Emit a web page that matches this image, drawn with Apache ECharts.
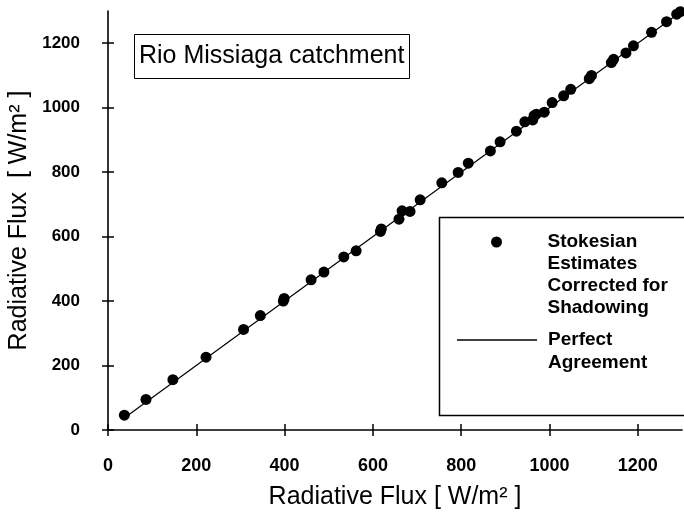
<!DOCTYPE html>
<html><head><meta charset="utf-8">
<script src="https://cdn.jsdelivr.net/npm/echarts@6/dist/echarts.min.js"></script>
<style>html,body{margin:0;padding:0;background:#fff}#c{width:684px;height:513px}</style>
</head><body><div id="c"></div>
<script>
// ---- data ----
const seriesNames = ['Stokesian Estimates Corrected for Shadowing', 'Perfect Agreement'];
const legendLines = ['\n\n\nStokesian\nEstimates\nCorrected for\nShadowing', '\nPerfect\nAgreement'];
const titleText = 'Rio Missiaga catchment';
const xTitle = 'Radiative Flux [ W/m\u00B2 ]';
const yTitle = 'Radiative Flux  [ W/m\u00B2 ]';
const xTicks = [0, 200, 400, 600, 800, 1000, 1200];
const yTicks = [0, 200, 400, 600, 800, 1000, 1200];
const estX = [37, 86, 147, 222, 307, 345, 397, 399, 460, 489, 534, 562, 617, 619, 659, 666, 684, 707, 756, 793, 816, 866, 888, 925, 944, 962, 965, 970, 988, 1006, 1032, 1048, 1090, 1095, 1140, 1145, 1173, 1190, 1231, 1265, 1288, 1296];
const estY = [46, 95, 156, 226, 312, 355, 400, 408, 466, 490, 537, 556, 616, 624, 654, 680, 678, 714, 767, 799, 828, 866, 894, 927, 956, 962, 975, 980, 986, 1016, 1037, 1057, 1090, 1100, 1140, 1150, 1170, 1192, 1234, 1267, 1290, 1298];
const lineX = [40, 1300];
const lineY = [40, 1300];

const FONT = "'Liberation Sans', Arial, sans-serif";

const chart = echarts.init(document.getElementById('c'), null, {renderer: 'canvas'});
const est = estX.map((x, i) => [x, estY[i]]);
const perfect = lineX.map((x, i) => [x, lineY[i]]);

const axisCommon = {type: 'value', min: 0, max: 1300, splitLine: {show: false}};
const plain = v => String(v);
chart.setOption({
  animation: false,
  backgroundColor: '#fff',
  title: {
    text: titleText, left: 134, top: 34,
    borderColor: '#000', borderWidth: 1, padding: [10, 5, 10, 5],
    textStyle: {fontFamily: FONT, fontSize: 25, fontWeight: 'normal', color: '#000'}
  },
  grid: {left: 108, top: 11, right: 2, bottom: 83, containLabel: false, outerBoundsMode: 'none'},
  xAxis: [
    Object.assign({}, axisCommon, {
      position: 'bottom',
      axisLine: {show: true, lineStyle: {color: '#000', width: 1.6}},
      axisTick: {show: true, inside: false, length: 6, customValues: xTicks, lineStyle: {color: '#000', width: 1.5}},
      axisLabel: {customValues: xTicks, formatter: plain, margin: 27, color: '#000', fontFamily: FONT, fontWeight: 'bold', fontSize: 18},
      name: xTitle, nameLocation: 'middle', nameGap: 55,
      nameTextStyle: {fontFamily: FONT, fontSize: 25, color: '#000'}
    }),
    Object.assign({}, axisCommon, {
      position: 'bottom',
      axisLine: {show: false},
      axisTick: {show: true, inside: true, length: 6, customValues: xTicks, lineStyle: {color: '#000', width: 1.5}},
      axisLabel: {show: false}
    })
  ],
  yAxis: [
    Object.assign({}, axisCommon, {
      position: 'left',
      axisLine: {show: true, lineStyle: {color: '#000', width: 1.6}},
      axisTick: {show: true, inside: false, length: 6, customValues: yTicks, lineStyle: {color: '#000', width: 1.5}},
      axisLabel: {customValues: yTicks, formatter: plain, margin: 28, color: '#000', fontFamily: FONT, fontWeight: 'bold', fontSize: 17},
      name: yTitle, nameLocation: 'middle', nameGap: 74, nameRotate: 90,
      nameTextStyle: {fontFamily: FONT, fontSize: 25, color: '#000'}
    }),
    Object.assign({}, axisCommon, {
      position: 'left',
      axisLine: {show: false},
      axisTick: {show: true, inside: true, length: 6, customValues: yTicks, lineStyle: {color: '#000', width: 1.5}},
      axisLabel: {show: false}
    })
  ],
  legend: [
    {
      data: [seriesNames[0]], orient: 'vertical', left: 491, top: 165, padding: 0,
      itemWidth: 80, itemHeight: 11, icon: 'circle', selectedMode: false,
      itemStyle: {opacity: 1},
      formatter: () => legendLines[0],
      textStyle: {fontFamily: FONT, fontSize: 19, fontWeight: 'bold', lineHeight: 22, color: '#000', padding: [0, 0, 0, 6]}
    },
    {
      data: [seriesNames[1]], orient: 'vertical', left: 457, top: 305.5, padding: 0,
      itemWidth: 80, itemHeight: 1.5, icon: 'rect', selectedMode: false,
      formatter: () => legendLines[1],
      textStyle: {fontFamily: FONT, fontSize: 19, fontWeight: 'bold', lineHeight: 23, color: '#000', padding: [0, 0, 0, 6]}
    }
  ],
  graphic: [{
    type: 'rect', left: 437, top: 215, silent: true,
    shape: {width: 300, height: 198},
    style: {fill: 'none', stroke: '#000', lineWidth: 1.5}
  }],
  series: [
    {
      name: seriesNames[1], type: 'line', data: perfect, symbol: 'none', showSymbol: false,
      lineStyle: {color: '#000', width: 1.2}, itemStyle: {color: '#000'}, z: 2
    },
    {
      name: seriesNames[0], type: 'scatter', data: est, symbol: 'circle', symbolSize: 11,
      itemStyle: {color: '#000', opacity: 1}, z: 3, clip: false
    }
  ]
});
</script></body></html>
